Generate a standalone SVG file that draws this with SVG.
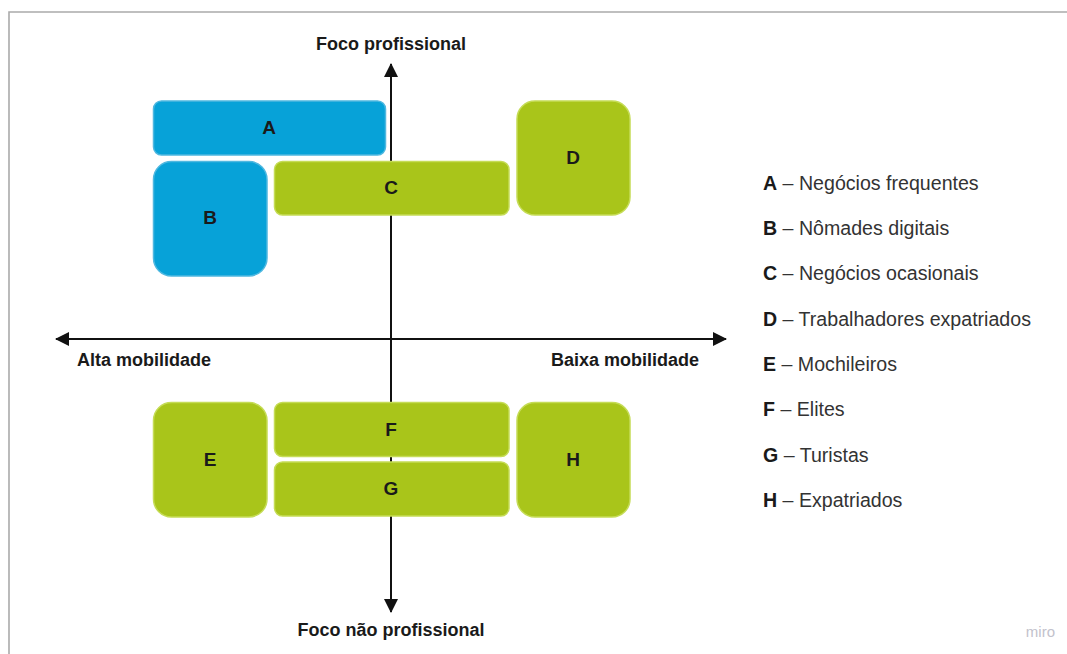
<svg xmlns="http://www.w3.org/2000/svg" width="1067" height="654" viewBox="0 0 1067 654">
<style>
.blue{fill:#07a2d8;stroke:#4fb8e0;stroke-width:1.5}
.green{fill:#a9c51a;stroke:#c5dc56;stroke-width:1.5}
.lbl{font-family:"Liberation Sans",Arial,sans-serif;font-weight:bold;font-size:19px;fill:#1a1a1a;text-anchor:middle}
.ax{font-family:"Liberation Sans",Arial,sans-serif;font-weight:bold;font-size:18px;fill:#1a1a1a}
.leg{font-family:"Liberation Sans",Arial,sans-serif;font-size:19.6px;fill:#333333}
.leg tspan.k{font-weight:bold;fill:#1a1a1a}
.axis{stroke:#111;stroke-width:2;fill:none}
</style>
<defs>
<marker id="arr" viewBox="0 0 14 14" refX="13" refY="7" markerWidth="14" markerHeight="14" markerUnits="userSpaceOnUse" orient="auto">
<path d="M0,0 L14,7 L0,14 Z" fill="#111"/>
</marker>
</defs>
<rect x="0" y="0" width="1067" height="654" fill="#ffffff"/>
<path d="M9,660 L9,12 L1070,12" fill="none" stroke="#aaaaaa" stroke-width="1.6"/>

<g id="connectors">
<line class="axis" x1="391" y1="340" x2="391" y2="64" marker-end="url(#arr)"/>
<line class="axis" x1="391" y1="340" x2="391" y2="612" marker-end="url(#arr)"/>
<line class="axis" x1="391" y1="339" x2="56" y2="339" marker-end="url(#arr)"/>
<line class="axis" x1="391" y1="339" x2="726" y2="339" marker-end="url(#arr)"/>
</g>

<g id="axis-labels">
<text class="ax" x="391" y="50" text-anchor="middle">Foco profissional</text>
<text class="ax" x="391" y="636" text-anchor="middle">Foco não profissional</text>
<text class="ax" x="77" y="366">Alta mobilidade</text>
<text class="ax" x="699" y="366" text-anchor="end">Baixa mobilidade</text>
</g>

<g id="node-A"><rect class="blue" x="153.5" y="101" width="232" height="54" rx="8"/><text class="lbl" x="269" y="134">A</text></g>
<g id="node-B"><rect class="blue" x="153.5" y="161.5" width="113.5" height="114.5" rx="18"/><text class="lbl" x="210" y="224">B</text></g>
<g id="node-C"><rect class="green" x="274.5" y="161.5" width="234.5" height="53.5" rx="8"/><text class="lbl" x="391" y="194">C</text></g>
<g id="node-D"><rect class="green" x="517" y="101" width="113" height="114" rx="18"/><text class="lbl" x="573" y="164">D</text></g>
<g id="node-E"><rect class="green" x="153.5" y="402.5" width="113.5" height="114.5" rx="18"/><text class="lbl" x="210" y="466">E</text></g>
<g id="node-F"><rect class="green" x="274.5" y="402.5" width="234.5" height="54" rx="8"/><text class="lbl" x="391" y="436">F</text></g>
<g id="node-G"><rect class="green" x="274.5" y="462" width="234.5" height="54" rx="8"/><text class="lbl" x="391" y="495">G</text></g>
<g id="node-H"><rect class="green" x="517" y="402.5" width="113" height="114.5" rx="18"/><text class="lbl" x="573" y="466">H</text></g>

<g id="legend">
<text class="leg" x="763" y="190"><tspan class="k">A</tspan> – Negócios frequentes</text>
<text class="leg" x="763" y="235"><tspan class="k">B</tspan> – Nômades digitais</text>
<text class="leg" x="763" y="280"><tspan class="k">C</tspan> – Negócios ocasionais</text>
<text class="leg" x="763" y="326"><tspan class="k">D</tspan> – Trabalhadores expatriados</text>
<text class="leg" x="763" y="371"><tspan class="k">E</tspan> – Mochileiros</text>
<text class="leg" x="763" y="416"><tspan class="k">F</tspan> – Elites</text>
<text class="leg" x="763" y="462"><tspan class="k">G</tspan> – Turistas</text>
<text class="leg" x="763" y="507"><tspan class="k">H</tspan> – Expatriados</text>
</g>

<text x="1055" y="637" text-anchor="end" font-family="'Liberation Sans',Arial,sans-serif" font-size="15px" fill="#c2c2cc">miro</text>
</svg>
